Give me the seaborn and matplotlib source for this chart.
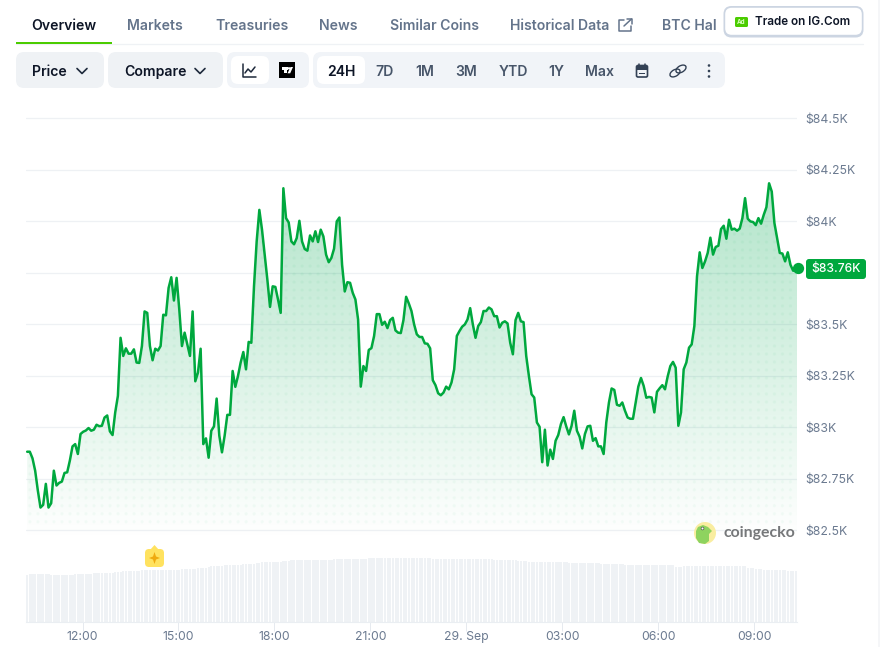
import numpy as np
import pandas as pd
import matplotlib
matplotlib.use('Agg')
import matplotlib.pyplot as plt
from matplotlib.patches import FancyBboxPatch, Circle, Polygon, Rectangle, Ellipse
import seaborn as sns

# BTC price, 5 min steps (USD)
prices = [
    82880, 82880, 82848, 82788, 82692, 82609, 82622, 82724, 82609, 82630, 82788, 82716, 82729, 82735, 82777,
    82780, 82837, 82906, 82917, 82869, 82966, 82977, 82983, 82995, 82982, 82987, 83011, 83004, 83006, 83046,
    83056, 82979, 82961, 83071, 83151, 83433, 83345, 83382, 83356, 83356, 83377, 83313, 83311, 83393, 83561,
    83554, 83393, 83324, 83380, 83371, 83393, 83545, 83542, 83675, 83727, 83614, 83724, 83571, 83393, 83458,
    83401, 83345, 83561, 83222, 83264, 83380, 82917, 82945, 82851, 82982, 83003, 83138, 82958, 82877, 82958,
    83059, 83059, 83272, 83195, 83248, 83313, 83364, 83280, 83413, 83409, 83683, 83901, 84054, 83958, 83837,
    83716, 83583, 83683, 83680, 83619, 83554, 84159, 84014, 83993, 83901, 83887, 83917, 84001, 83901, 83864,
    83856, 83930, 83901, 83950, 83898, 83958, 83925, 83837, 83800, 83821, 83866, 83998, 84017, 83788, 83658,
    83703, 83700, 83651, 83619, 83522, 83196, 83296, 83272, 83374, 83383, 83442, 83548, 83548, 83496, 83511,
    83480, 83519, 83530, 83469, 83458, 83456, 83519, 83632, 83600, 83563, 83498, 83450, 83437, 83437, 83406,
    83404, 83382, 83227, 83203, 83164, 83154, 83167, 83196, 83183, 83216, 83280, 83442, 83466, 83487, 83498,
    83522, 83577, 83498, 83433, 83490, 83509, 83563, 83563, 83580, 83571, 83538, 83538, 83483, 83506, 83513,
    83503, 83409, 83353, 83519, 83554, 83513, 83509, 83345, 83248, 83159, 83143, 83022, 83001, 82829, 82987,
    82813, 82890, 82845, 82933, 82961, 83014, 83048, 83003, 82964, 83006, 83079, 82982, 82953, 82896, 82966,
    83003, 83006, 82933, 82946, 82906, 82906, 82869, 83022, 83119, 83187, 83180, 83108, 83103, 83119, 83079,
    83046, 83040, 83040, 83119, 83196, 83238, 83200, 83142, 83146, 83143, 83071, 83171, 83188, 83203, 83183,
    83245, 83296, 83316, 83288, 83006, 83071, 83280, 83313, 83385, 83401, 83490, 83732, 83848, 83772, 83804,
    83845, 83919, 83837, 83874, 83880, 83961, 83977, 83914, 84006, 83958, 83963, 83953, 83963, 84014, 84111,
    84011, 83998, 83995, 83980, 84014, 83987, 84030, 84067, 84183, 84143, 83990, 83917, 83845, 83842, 83804,
    83848, 83788, 83759, 83759, 83772,
]

# volume bars, same 5 min steps (no scale on the chart, so relative units)
volumes = [
    46.6, 47.3, 47.3, 47.3, 47.3, 47.3, 47.3, 47.3, 47.3, 46.3, 46.3, 46.3, 46.3, 46.3, 46.3, 46.3, 46.3, 46.3,
    47.3, 47.3, 47.3, 47.3, 47.3, 47.3, 47.3, 48.3, 48.3, 48.3, 48.3, 48.3, 48.3, 48.3, 48.3, 49.3, 49.3, 49.3,
    50.3, 50.3, 50.3, 50.3, 50.3, 50.3, 50.3, 51.3, 51.3, 51.3, 51.3, 51.3, 51.3, 51.3, 51.3, 51.3, 51.3, 52.0,
    52.0, 52.0, 52.0, 52.0, 53.0, 53.0, 53.0, 53.0, 53.0, 53.0, 54.0, 54.0, 54.0, 53.3, 54.3, 55.3, 55.3, 55.3,
    55.3, 55.3, 56.3, 56.3, 56.3, 56.3, 56.3, 56.3, 56.3, 57.3, 57.3, 57.3, 57.3, 57.3, 58.3, 58.3, 59.3, 59.3,
    59.3, 59.3, 59.3, 59.3, 59.3, 59.3, 60.3, 60.3, 60.3, 61.3, 61.3, 61.3, 61.3, 61.3, 61.3, 61.3, 61.3, 61.3,
    61.3, 61.3, 61.3, 61.3, 61.3, 61.3, 61.3, 62.3, 62.3, 62.3, 62.3, 62.3, 62.3, 62.3, 62.3, 62.3, 62.3, 62.3,
    62.3, 62.3, 63.3, 63.3, 63.3, 63.3, 63.3, 63.3, 63.3, 63.3, 63.3, 63.3, 63.3, 63.3, 63.3, 63.3, 63.3, 63.3,
    63.3, 63.3, 63.3, 63.3, 63.3, 63.3, 63.3, 63.3, 62.3, 62.3, 62.3, 62.3, 62.3, 62.3, 62.3, 62.3, 62.3, 62.3,
    62.3, 62.3, 62.3, 62.3, 62.3, 62.3, 62.3, 62.3, 62.3, 62.3, 62.3, 62.3, 62.3, 61.3, 61.3, 61.3, 61.3, 61.3,
    61.3, 61.3, 61.3, 61.3, 60.3, 60.3, 60.3, 60.3, 59.3, 59.3, 59.3, 59.3, 59.3, 59.3, 59.3, 59.3, 59.3, 59.3,
    59.3, 59.3, 59.3, 59.3, 59.3, 58.3, 58.3, 58.3, 58.3, 58.3, 58.3, 58.3, 58.3, 58.3, 58.3, 58.3, 58.3, 58.0,
    58.0, 58.0, 58.0, 58.0, 58.0, 58.0, 58.0, 58.0, 57.0, 57.0, 57.0, 57.0, 57.0, 57.0, 57.0, 57.0, 57.0, 57.0,
    57.0, 57.0, 57.0, 57.0, 57.0, 57.0, 56.3, 56.3, 56.3, 54.5, 54.5, 54.5, 55.3, 55.3, 55.3, 55.3, 55.3, 55.3,
    55.3, 55.3, 55.3, 55.3, 55.3, 55.3, 55.3, 55.3, 55.3, 55.3, 55.3, 55.3, 55.3, 55.3, 55.3, 55.3, 55.3, 55.3,
    54.0, 54.0, 54.0, 53.0, 53.0, 53.0, 52.0, 52.0, 52.0, 52.0, 52.0, 52.0, 52.0, 51.3, 51.3, 50.3, 50.3, 50.3,
    50.3,
]

price_ticks = [82500, 82750, 83000, 83250, 83500, 83750, 84000, 84250, 84500]
price_labels = ['$82.5K', '$82.75K', '$83K', '$83.25K', '$83.5K', '', '$84K', '$84.25K', '$84.5K']
hour_ticks = [12, 15, 18, 21, 24, 27, 30, 33]
hour_labels = ['12:00', '15:00', '18:00', '21:00', '29. Sep', '03:00', '06:00', '09:00']
last_price_label = '$83.76K'

tabs = ['Overview', 'Markets', 'Treasuries', 'News', 'Similar Coins', 'Historical Data', 'BTC Hal']
ranges = ['24H', '7D', '1M', '3M', 'YTD', '1Y', 'Max']

GREEN = '#00a83e'
GREY_BG = '#eff2f5'
TICK = '#6b7a90'
DARK = '#0d1526'
TAB = '#64748b'

W, H = 880, 647
sns.set_theme(style='white')
plt.rcParams['font.family'] = ['Inter', 'DejaVu Sans']
fig = plt.figure(figsize=(W / 100, H / 100), dpi=100, facecolor='white')


def px_axes(left, top, right, bottom):
    return fig.add_axes([left / W, 1 - bottom / H, (right - left) / W, (bottom - top) / H])


# price panel
ax = px_axes(26, 100, 797, 540)
ax.set_facecolor('none')
times = np.linspace(10.27, 34.375, len(prices))
df = pd.DataFrame({'time': times, 'price': prices})
xlim = (10.234, 34.33)
ylim = (82451.5, 84587.4)

area = ax.fill_between(df['time'], df['price'], ylim[0], facecolor='none', linewidth=0)

# gradient with the dot grid, clipped under the line
yy, xx = np.mgrid[100:540:880j, 26:797:1542j]
alpha = np.clip(0.29 * (530 - yy) / 340 + 0.008, 0, 1)
dist = np.hypot((xx - 5.7 + 4) % 8 - 4, (yy - 2 + 4) % 8 - 4)
alpha = alpha + np.where((dist < 1.6) & (yy < 528), 0.04, 0)
img = np.zeros(yy.shape + (4,))
img[..., 0] = 0.0
img[..., 1] = 168 / 255
img[..., 2] = 80 / 255
img[..., 3] = alpha
im = ax.imshow(img, extent=(0, 1, 0, 1), transform=ax.transAxes, aspect='auto', origin='upper',
               interpolation='bilinear', zorder=1)
im.set_clip_path(area.get_paths()[0], ax.transData)

sns.lineplot(data=df, x='time', y='price', ax=ax, color=GREEN, linewidth=1.8, estimator=None, zorder=3)
ax.scatter([times[-1]], [prices[-1]], s=66, color=GREEN, linewidth=0, zorder=4, clip_on=False)

ax.set_xlim(xlim)
ax.set_ylim(ylim)
ax.set_xlabel('')
ax.set_ylabel('')
ax.set_xticks([])
ax.yaxis.tick_right()
ax.set_yticks(price_ticks)
ax.set_yticklabels(price_labels, color=TICK, fontsize=8.8)
ax.tick_params(axis='y', length=0, pad=6)
ax.grid(axis='y', color='#eef1f4', linewidth=0.9, zorder=0)
ax.set_axisbelow(True)
sns.despine(ax=ax, left=True, right=True, top=True, bottom=True)

# volume panel
ax_vol = px_axes(26, 530, 797, 621.5)
ax_vol.set_facecolor('none')
vol_df = pd.DataFrame({'time': np.linspace(10.27, 34.30, len(volumes)), 'volume': volumes})
sns.barplot(data=vol_df, x='time', y='volume', ax=ax_vol, native_scale=True, color=GREY_BG, saturation=1,
            width=0.8, errorbar=None, linewidth=0)
ax_vol.set_xlim(xlim)
ax_vol.set_ylim(0, 91.5)
ax_vol.set_xlabel('')
ax_vol.set_ylabel('')
ax_vol.set_yticks([])
ax_vol.set_xticks(hour_ticks)
ax_vol.set_xticklabels(hour_labels, color=TICK, fontsize=8.8)
ax_vol.tick_params(axis='x', length=6.5, width=0.7, color='#e6eaef', pad=0.5, bottom=True)
sns.despine(ax=ax_vol, left=True, right=True, top=True)
ax_vol.spines['bottom'].set_color('#eaeef2')
ax_vol.spines['bottom'].set_linewidth(0.8)

# page chrome in pixel coordinates
ui = fig.add_axes([0, 0, 1, 1], zorder=10)
ui.set_xlim(0, W)
ui.set_ylim(H, 0)
ui.axis('off')


def box(x0, y0, x1, y1, face, radius=8, edge='none', lw=0, z=2):
    p = FancyBboxPatch((x0 + radius, y0 + radius), x1 - x0 - 2 * radius, y1 - y0 - 2 * radius,
                       boxstyle=f'round,pad={radius},rounding_size={radius}',
                       facecolor=face, edgecolor=edge, linewidth=lw, zorder=z)
    ui.add_patch(p)


def stroke(xs, ys, color=DARK, lw=1.1, z=5):
    ui.plot(xs, ys, color=color, linewidth=lw, solid_capstyle='round', solid_joinstyle='round', zorder=z)


def chevron(cx, cy):
    stroke([cx - 5, cx, cx + 5], [cy - 2.5, cy + 2.5, cy - 2.5], color='#1e293b', lw=1.2)


# tabs
tab_x = [32, 128, 216, 320, 390, 511, 662]
for name, x in zip(tabs, tab_x):
    ui.text(x - 0.5, 25.6, name, fontsize=10.1, va='center', ha='left', color=DARK if name == 'Overview' else TAB,
            fontweight='semibold', zorder=5)
ui.plot([16, 863], [43.5, 43.5], color='#eff2f5', linewidth=0.9, zorder=2)
ui.add_patch(Rectangle((16, 41.5), 96, 2.5, facecolor='#4bcc00', linewidth=0, zorder=3))

# external link icon next to Historical Data
stroke([624, 619, 619, 631, 631], [20, 20, 31, 31, 26], color=TAB, lw=1.1)
stroke([624, 631.5], [26, 19], color=TAB, lw=1.1)
stroke([626.5, 631.5, 631.5], [19, 19, 24], color=TAB, lw=1.1)

# ad button
box(723.5, 6, 863.5, 37.5, '#ccd5e2', radius=8, z=2)
box(725.2, 7.8, 861.8, 34.8, 'white', radius=6.5, z=3)
box(735, 17, 748, 27, '#4bcc00', radius=1.5, z=4)
ui.text(741.5, 22.2, 'Ad', fontsize=4.5, color='#d8ffc0', ha='center', va='center', fontweight='bold', zorder=5)
ui.text(755, 22.4, 'Trade on IG.Com', fontsize=8.4, color=DARK, va='center', fontweight='semibold', zorder=5)

# control buttons
box(16, 52, 104, 88, GREY_BG)
ui.text(32, 71.6, 'Price', fontsize=10.1, color=DARK, va='center', fontweight='semibold', zorder=5)
chevron(82, 71)
box(108, 52, 223, 88, GREY_BG)
ui.text(124, 71.6, 'Compare', fontsize=10.1, color=DARK, va='center', fontweight='semibold', zorder=5)
chevron(200, 71)

box(227, 52, 309, 88, '#f1f4f8')
box(231, 56, 269, 84, 'white', radius=7, z=3)
stroke([243, 243, 256], [64, 77, 77], color='#1e293b')
stroke([245, 248, 251, 255], [73, 69, 72, 67], color='#1e293b')

# TradingView mark
ui.add_patch(Rectangle((279.3, 62), 16, 16, facecolor='black', linewidth=0, zorder=4))
ui.add_patch(Rectangle((282, 67), 5.5, 2.5, facecolor='white', linewidth=0, zorder=5))
ui.add_patch(Rectangle((284, 69.5), 2.5, 3.8, facecolor='white', linewidth=0, zorder=5))
ui.add_patch(Circle((289, 68.3), 1.2, facecolor='white', linewidth=0, zorder=5))
ui.add_patch(Polygon([[287.5, 73.3], [290.5, 67], [293, 67], [290.2, 73.3]], closed=True, facecolor='white',
                     linewidth=0, zorder=5))

box(313, 52, 725, 88, '#f1f4f8')
box(317, 56, 365, 84, 'white', radius=7, z=3)
for name, x in zip(ranges, [341, 385, 425, 466, 513, 556, 600]):
    ui.text(x, 71.6, name, fontsize=10.1, color=DARK if name == '24H' else '#475569', ha='center', va='center',
            fontweight='semibold', zorder=5)

# calendar, link and menu icons
ICON = '#334155'
box(636.5, 65.5, 647.5, 77, 'none', radius=1.5, edge=ICON, lw=1.2, z=5)
ui.add_patch(Rectangle((636.5, 66), 11, 3.5, facecolor=ICON, linewidth=0, zorder=5))
ui.add_patch(Rectangle((639, 72.5), 6, 1.3, facecolor=ICON, linewidth=0, zorder=5))
stroke([639, 639], [64, 66], color=ICON)
stroke([645, 645], [64, 66], color=ICON)
for dx, dy in [(-3, 2), (3, -2)]:
    ui.add_patch(Ellipse((678 + dx, 71 + dy), 11, 6.5, angle=-30, facecolor='none', edgecolor=ICON,
                         linewidth=1.0, zorder=5))
for y in [65.5, 71, 76.5]:
    ui.add_patch(Circle((709, y), 1.3, facecolor=ICON, linewidth=0, zorder=5))

# last price tag
box(806, 259, 866, 279, GREEN, radius=3, z=5)
ui.text(836, 269.3, last_price_label, fontsize=8.7, color='white', ha='center', va='center', fontweight='medium',
        zorder=6)

# coingecko mark
ui.add_patch(Circle((705, 533), 11, facecolor='#f9eda0', linewidth=0, zorder=5))
ui.add_patch(Polygon([[696, 538], [696, 531], [698, 527], [703, 525], [708, 527], [712, 531], [709, 534],
                      [709, 541], [705, 544], [699, 543]], closed=True, facecolor='#8ed35f', linewidth=0, zorder=6))
ui.add_patch(Circle((702.5, 528.5), 1.4, facecolor='white', edgecolor='#555555', linewidth=0.5, zorder=7))
ui.text(723, 532.5, 'coingecko', fontsize=11.4, color='#76787a', va='center', fontweight='bold',
        family=['Lato', 'DejaVu Sans'], zorder=6)

# yellow event badge on the volume panel
box(145, 549, 164, 567, '#ffe25f', radius=4, z=5)
ui.add_patch(Polygon([[150, 550], [154.5, 545], [159, 550]], closed=True, facecolor='#ffe25f', linewidth=0, zorder=5))
ui.add_patch(Polygon([[154.5, 552], [156, 556.5], [160, 558], [156, 559.5], [154.5, 564], [153, 559.5], [149, 558],
                      [153, 556.5]], closed=True, facecolor='#efaa0f', linewidth=0, zorder=6))

# scrollbar edge at the right of the page
ui.add_patch(Rectangle((878, 0), 2, H, facecolor='#f5f6f8', linewidth=0, zorder=1))

fig.savefig('out.png', dpi=100, facecolor='white')
